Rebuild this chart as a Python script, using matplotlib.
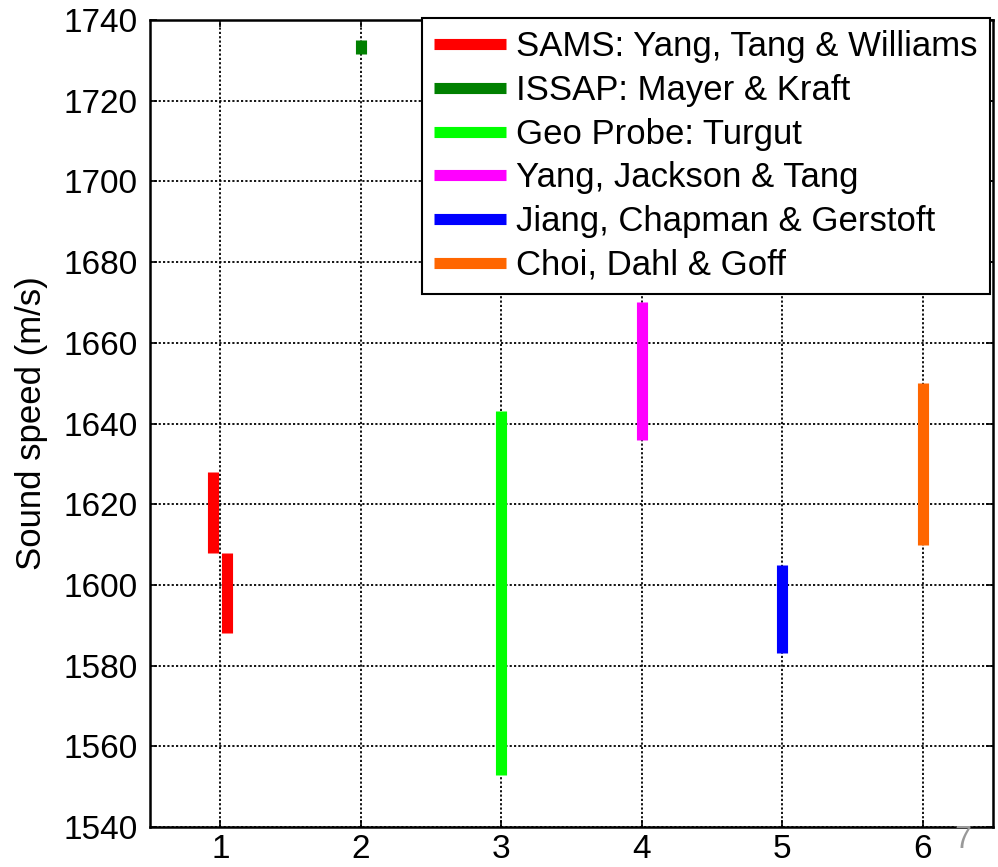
import matplotlib
matplotlib.use("Agg")
import matplotlib.pyplot as plt

plt.rcParams['font.family'] = ['Liberation Sans', 'DejaVu Sans']

# Data
labels = ["SAMS: Yang, Tang & Williams", "ISSAP: Mayer & Kraft", "Geo Probe: Turgut",
          "Yang, Jackson & Tang", "Jiang, Chapman & Gerstoft", "Choi, Dahl & Goff"]
colors = ["#FF0000", "#008000", "#00FF00", "#FF00FF", "#0000FF", "#FF6600"]
x_pos = [[0.95, 1.05], [2], [3], [4], [5], [6]]
low = [[1608, 1588], [1731.5], [1553], [1636], [1583], [1610]]
high = [[1628, 1608], [1735], [1643], [1670], [1605], [1650]]
xticks = [1, 2, 3, 4, 5, 6]
yticks = list(range(1540, 1741, 20))

fig = plt.figure(figsize=(9.98, 8.67), dpi=100)
ax = fig.add_axes([150/998, 1-827/867, (993-150)/998, (827-20)/867])

handles = []
for xs, lo, hi, c, lab in zip(x_pos, low, high, colors, labels):
    lc = ax.vlines(xs, lo, hi, colors=c, linewidth=8, label=lab, zorder=3)
    lc.set_capstyle('butt')
    handles.append(lc)

ax.set_xlim(0.5, 6.5)
ax.set_ylim(1540, 1740)
ax.set_xticks(xticks)
ax.set_yticks(yticks)
ax.grid(True, color='black', linestyle=(0, (1.2, 1.2)), linewidth=1.3)
ax.tick_params(direction='in', top=True, right=True, length=5, width=1.2,
               labelsize=24)
ax.tick_params(axis='x', pad=5)
ax.tick_params(axis='y', pad=9)
for s in ax.spines.values():
    s.set_linewidth(1.8)
ax.set_ylabel("Sound speed (m/s)", fontsize=25, labelpad=11)

leg = ax.legend(handles=handles, loc='upper right', bbox_to_anchor=(990/998, 1-18/867),
                bbox_transform=fig.transFigure, borderaxespad=0, fontsize=25,
                handlelength=2.07, handletextpad=0.29, labelspacing=0.31,
                borderpad=0.35, fancybox=False, framealpha=1, edgecolor='black')
leg.get_frame().set_linewidth(1.5)
for lh in leg.legend_handles:
    lh.set_linewidth(8)
    if hasattr(lh, 'set_solid_capstyle'):
        lh.set_solid_capstyle('butt')
    elif hasattr(lh, 'set_capstyle'):
        lh.set_capstyle('butt')

fig.text(963/998, 1-840/867, "7", color='#999999', fontsize=22, ha='center', va='center')

fig.savefig("out.png", dpi=100)
